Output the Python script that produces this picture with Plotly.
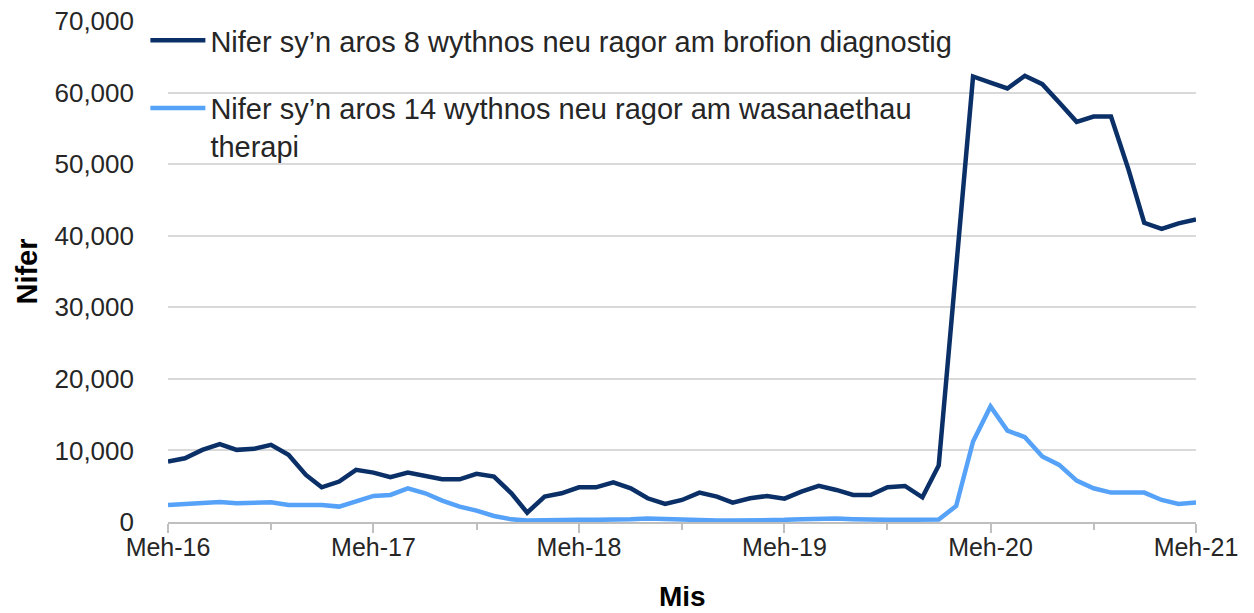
import pandas as pd
import plotly.graph_objects as go

#data (monthly, Meh-16 to Meh-21)
months = pd.date_range("2016-06-01", periods=61, freq="MS")
tick_dates = ["2016-06-01", "2017-06-01", "2018-06-01", "2019-06-01", "2020-06-01", "2021-06-01"]
tick_labels = ["Meh-16", "Meh-17", "Meh-18", "Meh-19", "Meh-20", "Meh-21"]

name_diag = "Nifer sy’n aros 8 wythnos neu ragor am brofion diagnostig"
name_ther = "Nifer sy’n aros 14 wythnos neu ragor am wasanaethau<br>therapi"

diag_8wk = [8440, 8900, 10080, 10870, 10080, 10220, 10780, 9380, 6580, 4850, 5650, 7280,
            6900, 6250, 6900, 6480, 5970, 5970, 6720, 6350, 4010, 1310, 3550, 4010,
            4850, 4850, 5550, 4710, 3310, 2520, 3080, 4110, 3550, 2710, 3310, 3640,
            3270, 4250, 5040, 4480, 3780, 3780, 4850, 5040, 3450, 7900, 35000, 62250,
            61400, 60570, 62350, 61180, 58610, 55910, 56650, 56650, 49280, 41810, 40970, 41720,
            42280]
ther_14wk = [2380, 2520, 2750, 2800, 2610, 2610, 2750, 2380, 2380, 2380, 2150, 2850,
             3640, 3780, 4710, 4010, 2990, 2150, 1590, 840, 370, 200, 280, 300,
             300, 300, 300, 400, 500, 400, 400, 300, 200, 200, 200, 300,
             300, 400, 500, 500, 400, 300, 300, 300, 300, 350, 2240, 11240,
             16140, 12780, 11860, 9150, 7980, 5790, 4710, 4110, 4110, 4110, 3080, 2520,
             2710]

font_txt = "Liberation Sans, Arial, sans-serif"

fig = go.Figure()
fig.add_trace(go.Scatter(x=months, y=diag_8wk, mode="lines", name=name_diag,
                         legendgroup="a", line=dict(color="#0b3068", width=4.5)))
fig.add_trace(go.Scatter(x=months, y=ther_14wk, mode="lines", name=name_ther,
                         legendgroup="b", line=dict(color="#55a2f8", width=4.5)))

# page body has an 8px margin, so the figure is 8px smaller than the window
fig.update_layout(
    width=1246, height=605,
    margin=dict(l=160, r=58, t=13, b=91, autoexpand=False),
    paper_bgcolor="white", plot_bgcolor="white",
    font=dict(family=font_txt, size=25, color="#262626"),
    showlegend=True,
    legend=dict(x=-0.022, y=1.012, xanchor="left", yanchor="top",
                traceorder="grouped", tracegroupgap=27, valign="top",
                itemwidth=55,
                bgcolor="rgba(0,0,0,0)", font=dict(size=29, color="#262626")),
)

# x title as annotation so it stays inside the bottom margin
fig.add_annotation(text="<b>Mis</b>", xref="paper", yref="paper", x=0.5, y=-0.148,
                   xanchor="center", yanchor="middle", showarrow=False,
                   font=dict(size=28, color="#000000"))

fig.update_xaxes(
    range=["2016-06-01", "2021-06-01"],
    tickvals=tick_dates, ticktext=tick_labels,
    showgrid=False, showline=True, linecolor="#bfbfbf", linewidth=1.5,
    ticks="outside", ticklen=9, tickcolor="#bfbfbf", tickwidth=1.5,
    ticklabelstandoff=-7, ticklabeloverflow="allow",
    minor=dict(ticks="outside", dtick="M6", tick0="2016-06-01", ticklen=6,
               tickcolor="#bfbfbf", tickwidth=1.5, showgrid=False),
    zeroline=False,
)
fig.update_yaxes(
    range=[0, 70000], dtick=10000, tickformat=",",
    showgrid=True, gridcolor="#d9d9d9", gridwidth=1.5,
    showline=False, zeroline=False, ticks="", ticklabelstandoff=33,
    ticklabeloverflow="allow",
    tickfont=dict(size=26),
    title=dict(text="<b>Nifer</b>", standoff=8, font=dict(size=29, color="#000000")),
)

fig.write_html("out.html")
